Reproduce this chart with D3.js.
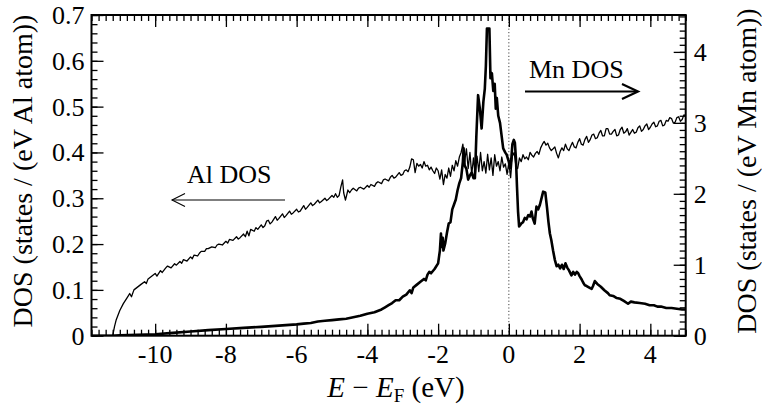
<!DOCTYPE html>
<html><head><meta charset="utf-8"><script src="https://cdn.jsdelivr.net/npm/d3@7"></script></head>
<body style="margin:0">
<svg id="chart" width="762" height="409"></svg>
<script>
// ---- Data ----
// Al DOS, left axis: [E - EF (eV), states / (eV Al atom)]
const alDOS = [
  [-11.2,0],[-11.15,0.02],[-11.1,0.035],[-11.0,0.055],[-10.9,0.07],[-10.8,0.082],[-10.72,0.092],[-10.67,0.085],
  [-10.6,0.1],[-10.5,0.106],[-10.4,0.112],[-10.3,0.118],[-10.25,0.114],[-10.2,0.124],[-10.1,0.13],[-10.0,0.136],[-9.95,0.13],
  [-9.85,0.142],[-9.8,0.138],[-9.7,0.148],[-9.65,0.152],[-9.55,0.148],[-9.45,0.157],[-9.4,0.154],[-9.3,0.162],[-9.25,0.158],[-9.2,0.166],
  [-9.1,0.163],[-9.0,0.172],[-8.95,0.168],[-8.9,0.176],[-8.8,0.174],[-8.75,0.18],[-8.7,0.184],[-8.6,0.184],[-8.55,0.19],[-8.5,0.19],[-8.4,0.194],
  [-8.3,0.192],[-8.25,0.198],[-8.2,0.2],[-8.1,0.198],[-8.0,0.206],[-7.95,0.202],[-7.9,0.21],[-7.8,0.208],[-7.7,0.216],[-7.65,0.211],[-7.6,0.214],
  [-7.5,0.222],[-7.45,0.216],[-7.4,0.228],[-7.35,0.218],[-7.3,0.232],[-7.2,0.228],[-7.15,0.236],[-7.1,0.232],[-7.0,0.242],[-6.95,0.236],[-6.9,0.24],
  [-6.85,0.25],[-6.8,0.252],[-6.75,0.244],[-6.7,0.248],[-6.6,0.26],[-6.55,0.252],[-6.5,0.256],[-6.4,0.266],[-6.35,0.258],[-6.3,0.262],[-6.2,0.272],[-6.15,0.265],[-6.1,0.268],
  [-6.0,0.276],[-5.95,0.27],[-5.9,0.272],[-5.8,0.284],[-5.75,0.276],[-5.7,0.28],[-5.6,0.29],[-5.55,0.284],[-5.5,0.287],[-5.4,0.296],[-5.35,0.29],[-5.3,0.293],
  [-5.2,0.3],[-5.15,0.295],[-5.1,0.298],[-5.0,0.306],[-4.95,0.302],[-4.9,0.31],[-4.85,0.302],[-4.8,0.306],[-4.75,0.325],[-4.7,0.34],[-4.67,0.312],
  [-4.62,0.296],[-4.55,0.318],[-4.5,0.312],[-4.45,0.318],[-4.4,0.322],[-4.3,0.316],[-4.25,0.322],[-4.2,0.324],[-4.1,0.32],[-4.0,0.328],[-3.95,0.324],
  [-3.9,0.33],[-3.8,0.326],[-3.75,0.333],[-3.7,0.336],[-3.6,0.332],[-3.55,0.34],[-3.5,0.342],[-3.4,0.338],[-3.35,0.346],[-3.3,0.35],[-3.25,0.344],[-3.2,0.346],
  [-3.1,0.356],[-3.05,0.35],[-3.0,0.352],[-2.95,0.36],[-2.9,0.362],[-2.85,0.358],[-2.8,0.368],[-2.75,0.386],[-2.7,0.384],[-2.65,0.356],[-2.6,0.376],
  [-2.55,0.37],[-2.5,0.374],[-2.45,0.366],[-2.4,0.38],[-2.35,0.37],[-2.3,0.372],[-2.25,0.362],[-2.2,0.368],[-2.15,0.36],[-2.1,0.354],[-2.05,0.366],[-2.0,0.36],[-1.95,0.342],[-1.9,0.362],
  [-1.85,0.33],[-1.8,0.352],[-1.75,0.344],[-1.7,0.366],[-1.65,0.348],[-1.6,0.372],[-1.55,0.36],[-1.5,0.382],
  [-1.45,0.37],[-1.4,0.39],[-1.35,0.4],[-1.3,0.418],[-1.25,0.38],[-1.2,0.408],[-1.15,0.365],[-1.1,0.4],
  [-1.05,0.352],[-1.0,0.388],[-0.95,0.35],[-0.9,0.392],[-0.85,0.358],[-0.8,0.4],[-0.75,0.36],[-0.7,0.38],
  [-0.65,0.355],[-0.6,0.396],[-0.55,0.362],[-0.5,0.388],[-0.45,0.35],[-0.4,0.395],[-0.35,0.37],[-0.3,0.38],
  [-0.25,0.36],[-0.2,0.39],[-0.15,0.368],[-0.1,0.375],[-0.05,0.352],[0.0,0.378],[0.05,0.345],[0.1,0.392],
  [0.15,0.4],[0.2,0.37],[0.25,0.365],[0.3,0.388],[0.35,0.38],[0.4,0.395],[0.45,0.386],[0.5,0.39],[0.55,0.384],[0.6,0.4],
  [0.65,0.394],[0.7,0.39],[0.75,0.398],[0.8,0.402],[0.85,0.396],[0.9,0.41],[0.95,0.418],[1.0,0.424],[1.05,0.416],[1.1,0.42],[1.15,0.41],[1.2,0.404],[1.3,0.412],[1.35,0.398],[1.4,0.388],
  [1.45,0.402],[1.5,0.41],[1.55,0.404],[1.6,0.418],[1.65,0.408],[1.7,0.404],[1.75,0.414],[1.8,0.422],[1.85,0.412],[1.9,0.41],[1.95,0.422],[2.0,0.43],[2.05,0.418],[2.1,0.416],[2.15,0.428],[2.2,0.435],
  [2.25,0.422],[2.3,0.428],[2.35,0.438],[2.4,0.44],[2.45,0.43],[2.5,0.432],[2.55,0.442],[2.6,0.448],[2.65,0.436],[2.7,0.436],[2.75,0.452],[2.8,0.452],[2.85,0.44],[2.9,0.44],[2.95,0.446],[3.0,0.45],
  [3.05,0.436],[3.1,0.438],[3.15,0.45],[3.2,0.455],[3.25,0.442],[3.3,0.445],[3.35,0.452],[3.4,0.438],[3.45,0.444],[3.5,0.45],[3.55,0.442],[3.6,0.444],[3.65,0.454],[3.7,0.458],[3.75,0.446],[3.8,0.45],
  [3.85,0.458],[3.9,0.462],[3.95,0.45],[4.0,0.455],[4.05,0.462],[4.1,0.466],[4.15,0.456],[4.2,0.458],[4.25,0.468],[4.3,0.47],[4.35,0.458],[4.4,0.46],[4.45,0.47],[4.5,0.468],[4.55,0.476],[4.6,0.474],
  [4.65,0.464],[4.7,0.466],[4.75,0.476],[4.8,0.478],[4.85,0.468],[4.9,0.472],[4.95,0.482],[5.0,0.48]
];

// Mn DOS, right axis: [E - EF (eV), states / (eV Mn atom)]
const mnDOS = [
  [-11.8,0],[-11.2,0.0],[-11.0,0.005],[-10.5,0.012],[-10.0,0.02],[-9.5,0.04],[-9.0,0.06],[-8.5,0.078],
  [-8.0,0.094],[-7.5,0.11],[-7.0,0.125],[-6.5,0.142],[-6.0,0.16],[-5.8,0.17],[-5.6,0.18],[-5.4,0.2],
  [-5.2,0.21],[-5.0,0.22],[-4.8,0.23],[-4.6,0.24],[-4.4,0.26],[-4.2,0.28],[-4.0,0.31],[-3.8,0.33],
  [-3.6,0.37],[-3.5,0.4],[-3.4,0.43],[-3.3,0.46],[-3.2,0.5],[-3.1,0.5],[-3.0,0.55],[-2.9,0.58],
  [-2.8,0.64],[-2.75,0.6],[-2.7,0.68],[-2.6,0.72],[-2.5,0.76],[-2.4,0.8],[-2.35,0.78],[-2.3,0.86],
  [-2.25,0.9],[-2.2,0.88],[-2.1,0.94],[-2.0,1.02],[-1.95,1.2],[-1.92,1.44],[-1.9,1.25],[-1.87,1.38],
  [-1.85,1.2],[-1.8,1.3],[-1.75,1.45],[-1.7,1.58],[-1.65,1.6],[-1.6,1.78],[-1.55,1.85],[-1.5,1.92],
  [-1.45,2.05],[-1.4,2.15],[-1.35,2.22],[-1.3,2.45],[-1.28,2.64],[-1.25,2.4],[-1.2,2.35],[-1.15,2.2],
  [-1.1,2.26],[-1.05,2.3],[-1.0,2.22],[-0.96,2.22],[-0.92,2.8],[-0.87,3.39],[-0.82,3.2],[-0.77,2.92],
  [-0.72,3.3],[-0.68,3.48],[-0.65,3.8],[-0.62,4.33],[-0.55,4.33],[-0.52,3.63],[-0.48,3.7],[-0.44,3.45],
  [-0.4,3.55],[-0.37,3.2],[-0.34,3.35],[-0.3,3.1],[-0.25,3.0],[-0.2,2.8],[-0.16,2.64],[-0.1,2.58],
  [-0.06,2.55],[0.0,2.45],[0.03,2.36],[0.07,2.5],[0.1,2.7],[0.14,2.76],[0.17,2.72],[0.2,2.5],
  [0.23,2.1],[0.26,1.75],[0.29,1.54],[0.35,1.58],[0.4,1.6],[0.45,1.66],[0.5,1.64],[0.55,1.7],
  [0.6,1.68],[0.64,1.75],[0.68,1.65],[0.73,1.58],[0.78,1.82],[0.83,1.78],[0.88,1.85],[0.93,1.95],
  [0.97,2.03],[1.03,2.02],[1.08,1.8],[1.12,1.6],[1.16,1.44],[1.2,1.35],[1.25,1.2],[1.3,1.07],
  [1.35,0.98],[1.4,1.0],[1.45,0.95],[1.5,1.0],[1.55,0.94],[1.6,1.02],[1.65,0.96],[1.7,0.92],
  [1.77,0.85],[1.82,0.9],[1.87,0.86],[1.92,0.9],[1.96,0.88],[2.0,0.84],[2.05,0.8],[2.1,0.75],
  [2.15,0.71],[2.2,0.7],[2.3,0.67],[2.34,0.66],[2.38,0.7],[2.43,0.77],[2.5,0.73],[2.6,0.69],
  [2.7,0.64],[2.8,0.6],[2.85,0.57],[2.95,0.56],[3.05,0.53],[3.15,0.52],[3.25,0.49],[3.37,0.45],
  [3.45,0.48],[3.55,0.47],[3.7,0.46],[3.85,0.45],[3.98,0.43],[4.1,0.43],[4.2,0.41],[4.3,0.41],
  [4.45,0.39],[4.6,0.39],[4.75,0.38],[4.9,0.37],[5.0,0.37]
];

const xMajorTicks = [-10, -8, -6, -4, -2, 0, 2, 4];
const yLeftTicks = [0, 0.1, 0.2, 0.3, 0.4, 0.5, 0.6, 0.7];
const yRightTicks = [0, 1, 2, 3, 4];
const xDomain = [-11.8, 5];
const yLeftDomain = [0, 0.7];
const yRightDomain = [0, 4.52];

// ---- Layout ----
const SERIF = "serif";
const L = 91.5, R = 685.7, T = 15, B = 335.7;
const svg = d3.select("#chart");

const x = d3.scaleLinear().domain(xDomain).range([L, R]);
const yL = d3.scaleLinear().domain(yLeftDomain).range([B, T]);
const yR = d3.scaleLinear().domain(yRightDomain).range([B, T]);

const xMinor = d3.range(-118, 51, 2).map(v => v / 10);
const yLMinor = d3.range(0, 71, 2).map(v => v / 100);
const yRMinor = d3.range(0, 46, 1).map(v => v / 10);

// tick marks only from d3 axes
function drawTicks(axis, tx, ty) {
  const g = svg.append("g").attr("transform", `translate(${tx},${ty})`).call(axis.tickFormat(""));
  g.select(".domain").remove();
  g.selectAll("text").remove();
  g.selectAll("line").attr("stroke", "#000").attr("stroke-width", 1.3);
  return g;
}

// dotted Fermi level line
svg.append("line")
  .attr("x1", x(0)).attr("x2", x(0)).attr("y1", T).attr("y2", B)
  .attr("stroke", "#444").attr("stroke-width", 1).attr("stroke-dasharray", "1.2,2.2");

drawTicks(d3.axisBottom(x).tickValues(xMinor).tickSize(-6), 0, B);
drawTicks(d3.axisBottom(x).tickValues(xMajorTicks).tickSize(-12), 0, B);
drawTicks(d3.axisTop(x).tickValues(xMinor).tickSize(-6), 0, T);
drawTicks(d3.axisTop(x).tickValues(xMajorTicks).tickSize(-12), 0, T);
drawTicks(d3.axisLeft(yL).tickValues(yLMinor).tickSize(-6), L, 0);
drawTicks(d3.axisLeft(yL).tickValues(yLeftTicks).tickSize(-12), L, 0);
drawTicks(d3.axisRight(yR).tickValues(yRMinor).tickSize(-6), R, 0);
drawTicks(d3.axisRight(yR).tickValues(yRightTicks).tickSize(-12), R, 0);

// tick labels as plain texts positioned by the scales
xMajorTicks.forEach(v => {
  svg.append("text").attr("x", x(v)).attr("y", B + 27).attr("text-anchor", "middle")
    .attr("font-family", SERIF).attr("font-size", 26).text(String(v));
});
yLeftTicks.forEach(v => {
  svg.append("text").attr("x", L - 7).attr("y", yL(v) + 9).attr("text-anchor", "end")
    .attr("font-family", SERIF).attr("font-size", 26).text(String(v));
});
yRightTicks.forEach(v => {
  svg.append("text").attr("x", R + 8).attr("y", yR(v) + 9).attr("text-anchor", "start")
    .attr("font-family", SERIF).attr("font-size", 26).text(String(v));
});

svg.append("clipPath").attr("id", "clip").append("rect")
  .attr("x", L).attr("y", T).attr("width", R - L).attr("height", B - T);

const lineAl = d3.line().x(d => x(d[0])).y(d => yL(d[1]));
const lineMn = d3.line().x(d => x(d[0])).y(d => yR(d[1]));

svg.append("path").datum(alDOS).attr("clip-path", "url(#clip)")
  .attr("d", lineAl).attr("fill", "none").attr("stroke", "#000")
  .attr("stroke-width", 1.3).attr("stroke-linejoin", "round");
svg.append("path").datum(mnDOS).attr("clip-path", "url(#clip)")
  .attr("d", lineMn).attr("fill", "none").attr("stroke", "#000")
  .attr("stroke-width", 2.6).attr("stroke-linejoin", "round");

svg.append("rect").attr("x", L).attr("y", T).attr("width", R - L).attr("height", B - T)
  .attr("fill", "none").attr("stroke", "#000").attr("stroke-width", 2);

svg.append("text").attr("x", 187).attr("y", 183).attr("font-family", SERIF).attr("font-size", 26).text("Al DOS");
const alArrow = svg.append("g").attr("stroke", "#000").attr("stroke-width", 1.1).attr("fill", "none");
alArrow.append("line").attr("x1", 172).attr("x2", 285).attr("y1", 200).attr("y2", 200);
alArrow.append("polyline").attr("points", "185,193.5 172,200 185,206.5");

svg.append("text").attr("x", 529).attr("y", 78).attr("font-family", SERIF).attr("font-size", 26).text("Mn DOS");
const mnArrow = svg.append("g").attr("stroke", "#000").attr("stroke-width", 2.2).attr("fill", "none");
mnArrow.append("line").attr("x1", 525).attr("x2", 637).attr("y1", 91.5).attr("y2", 91.5);
mnArrow.append("polyline").attr("points", "622,84 638,91.5 622,99");

svg.append("text")
  .attr("transform", "translate(32,171) rotate(-90)")
  .attr("text-anchor", "middle").attr("font-family", SERIF).attr("font-size", 28)
  .text("DOS (states / (eV Al atom))");
svg.append("text")
  .attr("transform", "translate(756,171) rotate(-90)")
  .attr("text-anchor", "middle").attr("font-family", SERIF).attr("font-size", 28)
  .text("DOS (states / (eV Mn atom))");

const xl = svg.append("text").attr("x", 396).attr("y", 397)
  .attr("text-anchor", "middle").attr("font-family", SERIF).attr("font-size", 29);
xl.append("tspan").attr("font-style", "italic").text("E");
xl.append("tspan").text(" − ");
xl.append("tspan").attr("font-style", "italic").text("E");
xl.append("tspan").attr("dy", 5).attr("font-size", 19).text("F");
xl.append("tspan").attr("dy", -5).text(" (eV)");
</script>
</body>
</html>
